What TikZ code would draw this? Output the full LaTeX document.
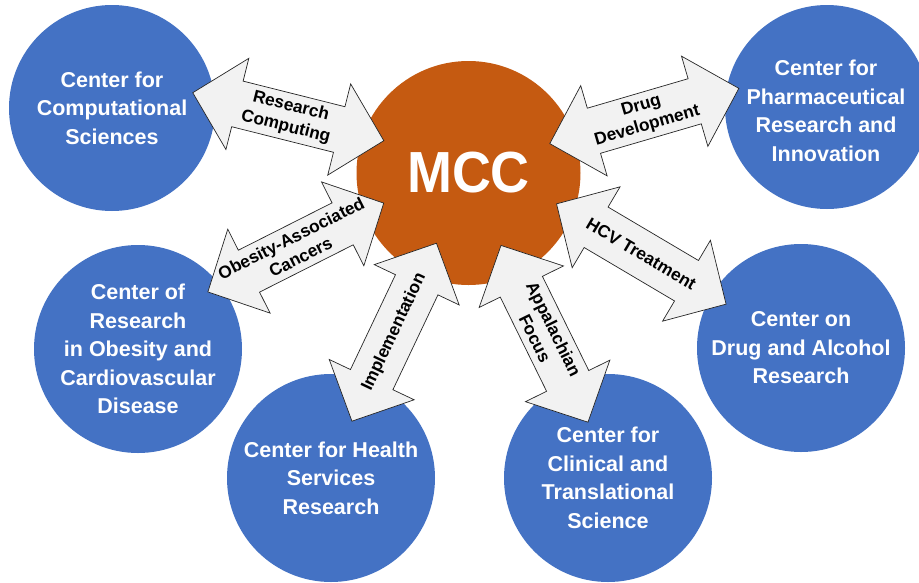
\documentclass[tikz,border=0pt]{standalone}
\usepackage{fontspec}
\setmainfont{Liberation Sans}
\usepackage{graphicx}
\definecolor{cblue}{HTML}{4472C4}
\definecolor{corange}{HTML}{C55A11}
\definecolor{afill}{HTML}{F2F2F2}
\tikzset{
  centre/.style={circle, fill=cblue, inner sep=0pt, text=white, align=center,
    font=\fontsize{21.5}{28.5}\selectfont\bfseries},
  centretext/.style={inner sep=0pt, text=white, align=center,
    font=\fontsize{21.5}{28.5}\selectfont\bfseries},
  arrowshape/.style={fill=afill, draw=black!85, line width=0.7pt, line join=miter},
  lbl/.style={inner sep=0pt, align=center, text=black,
    font=\fontsize{17.3}{21}\selectfont\bfseries}
}
\newcommand{\dblarr}[5]{%
  \begin{scope}[shift={(#2,#3)}, rotate=#4]
    \draw[arrowshape] (-98.5,0) -- (-52.5,47) -- (-52.5,23.5) -- (52.5,23.5)
      -- (52.5,47) -- (98.5,0) -- (52.5,-47) -- (52.5,-23.5) -- (-52.5,-23.5)
      -- (-52.5,-47) -- cycle;
  \end{scope}
  \node[lbl, rotate=#4] (#1) at (#2,#3) {#5};
}
\begin{document}
\begin{tikzpicture}[x=1pt,y=-1pt]
\clip (0,0) rectangle (919,582);
\fill[white] (0,0) rectangle (919,582);
% central node
\node[circle, fill=corange, inner sep=0pt, minimum size=224, text=white,
  font=\fontsize{58}{58}\selectfont\bfseries] (mcc) at (468.5,173) {\scalebox{0.93}[1]{MCC}};
% centres
\node[centre, minimum size=206] (ccs) at (112,108) {Center for\\Computational\\Sciences};
\node[centre, minimum size=204] (cpri) at (827,107) {};
\node[centretext] (cpritxt) at (826,111) {Center for\\Pharmaceutical\\Research and\\Innovation};
\node[centre, minimum size=208] (croc) at (138,349) {Center of\\Research\\in Obesity and\\Cardiovascular\\Disease};
\node[centre, minimum size=208] (chsr) at (331,478) {Center for Health\\Services\\Research};
\node[centre, minimum size=208] (ccts) at (608,478) {Center for\\Clinical and\\Translational\\Science};
\node[centre, minimum size=208] (cdar) at (801,348) {Center on\\Drug and Alcohol\\Research};
% double arrows
\dblarr{rc}{288.3}{116.7}{-14.1}{Research\\Computing}
\dblarr{dd}{644.3}{116}{16.3}{Drug\\Development}
\dblarr{oac}{295.8}{247.5}{26.8}{Obesity-Associated\\Cancers}
\dblarr{hcv}{641.3}{254}{-30.6}{HCV Treatment}
\dblarr{impl}{394.2}{332.2}{64.6}{Implementation}
\dblarr{app}{544.5}{333.8}{-63.8}{Appalachian\\Focus}
\end{tikzpicture}
\end{document}
